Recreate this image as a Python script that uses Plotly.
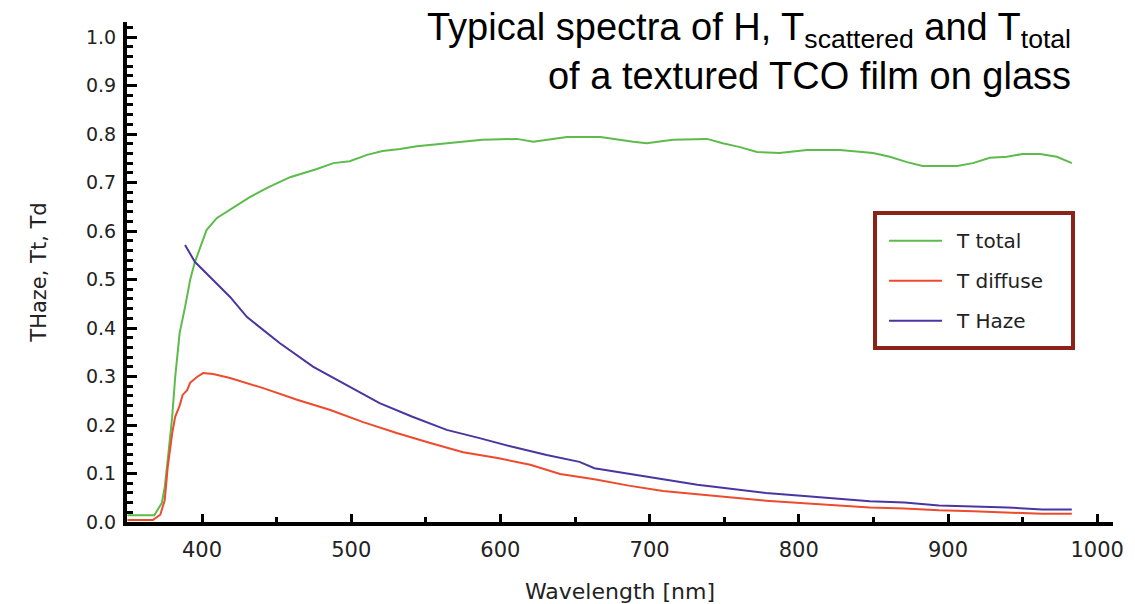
import plotly.graph_objects as go

# ---- data ----
total_wl = [350, 360, 368, 373, 375, 377, 380, 382, 385, 388.6, 392, 395, 398.7, 403, 410, 421,
            432, 443.6, 459, 477, 488, 499, 510.6, 521, 532.7, 544, 566, 588, 611, 622, 644.6,
            667, 689, 698, 715.7, 738.5, 749, 760.6, 772, 787, 805.5, 827.6, 849.7, 861, 872.5,
            883, 906, 916.7, 928, 939.5, 950, 961.7, 973, 983]
total_t = [0.014, 0.014, 0.014, 0.039, 0.072, 0.128, 0.217, 0.299, 0.39, 0.443, 0.499, 0.534,
           0.567, 0.602, 0.627, 0.649, 0.670, 0.689, 0.711, 0.728, 0.740, 0.744, 0.757, 0.765,
           0.769, 0.775, 0.781, 0.788, 0.790, 0.784, 0.794, 0.794, 0.784, 0.781, 0.788, 0.790,
           0.781, 0.773, 0.763, 0.761, 0.767, 0.767, 0.761, 0.753, 0.742, 0.734, 0.734, 0.740,
           0.751, 0.753, 0.759, 0.759, 0.753, 0.740]

diffuse_wl = [350, 360, 367, 372, 375, 377, 380, 382, 385, 387, 390, 392, 396.6, 400.7, 407.4,
              418.8, 441, 463.7, 486, 508, 531, 553, 575, 598, 620, 640, 663, 686, 709, 732, 755,
              778, 801, 824.6, 847.6, 870.8, 894, 917, 940, 963, 983]
diffuse_t = [0.004, 0.004, 0.004, 0.015, 0.045, 0.113, 0.183, 0.217, 0.24, 0.262, 0.272, 0.287,
             0.299, 0.307, 0.305, 0.297, 0.276, 0.252, 0.231, 0.206, 0.183, 0.163, 0.144, 0.132,
             0.118, 0.099, 0.088, 0.075, 0.064, 0.057, 0.050, 0.044, 0.039, 0.035, 0.030, 0.028,
             0.024, 0.022, 0.020, 0.017, 0.017]

haze_wl = [388.6, 395.3, 407.4, 418.8, 430, 441, 452, 474.6, 497, 519, 541, 564, 586, 608, 631,
           653, 663, 686, 709, 732, 755, 778, 801.5, 824.6, 847.6, 870.8, 894, 917, 940, 963, 983]
haze_t = [0.571, 0.536, 0.499, 0.464, 0.423, 0.396, 0.369, 0.320, 0.282, 0.245, 0.217, 0.190,
          0.173, 0.155, 0.138, 0.124, 0.111, 0.099, 0.088, 0.077, 0.068, 0.060, 0.054, 0.048,
          0.043, 0.040, 0.034, 0.032, 0.030, 0.026, 0.026]

series_names = ["T total", "T diffuse", "T Haze"]
series_colors = ["#5DBB4C", "#EE4A2C", "#4B35A0"]

title_text = ("Typical spectra of H, T<sub>scattered</sub> and T<sub>total</sub>"
              "<br>of a textured TCO film on glass")

x_title = "Wavelength [nm]"
y_title = "THaze, Tt, Td"

# ---- layout helpers (pixel -> paper) ----
L, R, T, B = 127, 22, 22, 82
W, H = 1135, 604
PW, PH = W - L - R, H - T - B


def px(xpix):
    return (xpix - L) / PW


def py(ypix):
    return (H - B - ypix) / PH


# ---- figure ----
fig = go.Figure()
for i, (xs, ys) in enumerate([(total_wl, total_t), (diffuse_wl, diffuse_t), (haze_wl, haze_t)]):
    fig.add_trace(go.Scatter(x=xs, y=ys, mode="lines", name=series_names[i],
                             showlegend=False,
                             line=dict(color=series_colors[i], width=2)))

fig.update_layout(
    width=W, height=H,
    margin=dict(l=L, r=R, t=T, b=B, autoexpand=False),
    paper_bgcolor="white", plot_bgcolor="white",
    xaxis=dict(range=[349.7, 1010.6], showgrid=False, zeroline=False, automargin=False,
               showline=True, linecolor="black", linewidth=4,
               ticks="inside", ticklen=8, tickwidth=3, tickcolor="black",
               tick0=0, dtick=100, ticklabelstandoff=6,
               tickfont=dict(family="DejaVu Sans, Arial", size=21, color="#222"),
               minor=dict(ticks="inside", ticklen=5, tickwidth=3, tickcolor="black", dtick=50),
               title=dict(text=x_title, font=dict(family="DejaVu Sans, Arial", size=22, color="#222"),
                          standoff=34)),
    yaxis=dict(range=[0, 1.031], showgrid=False, zeroline=False, automargin=False,
               showline=True, linecolor="black", linewidth=4,
               ticks="inside", ticklen=10, tickwidth=3, tickcolor="black",
               tick0=0, dtick=0.1, tickformat=".1f", ticklabelstandoff=3,
               tickfont=dict(family="DejaVu Sans, Arial", size=19, color="#222"),
               minor=dict(ticks="inside", ticklen=6, tickwidth=3, tickcolor="black", dtick=0.02),
               title=dict(text=y_title, font=dict(family="DejaVu Sans, Arial", size=21, color="#222"),
                          standoff=35)),
)

# title (two right-aligned lines in one text)
fig.add_annotation(text=title_text, xref="paper", yref="paper", x=px(1072), y=py(5),
                   xanchor="right", yanchor="top", align="right", showarrow=False, borderpad=0,
                   font=dict(family="Liberation Sans, Arial", size=38, color="black"))

# legend box drawn as in the reference
fig.add_shape(type="rect", xref="paper", yref="paper",
              x0=px(875), x1=px(1073), y0=py(213), y1=py(348),
              line=dict(color="#8C2318", width=4), fillcolor="white", layer="above")
for i, name in enumerate(series_names):
    yy = 240.7 + 40 * i
    fig.add_shape(type="line", xref="paper", yref="paper",
                  x0=px(889), x1=px(942), y0=py(yy), y1=py(yy),
                  line=dict(color=series_colors[i], width=2), layer="above")
    fig.add_annotation(text=name, xref="paper", yref="paper", x=px(955), y=py(yy),
                       xanchor="left", yanchor="middle", showarrow=False, borderpad=0,
                       font=dict(family="DejaVu Sans, Arial", size=20, color="#222"))

fig.write_html("out.html")
